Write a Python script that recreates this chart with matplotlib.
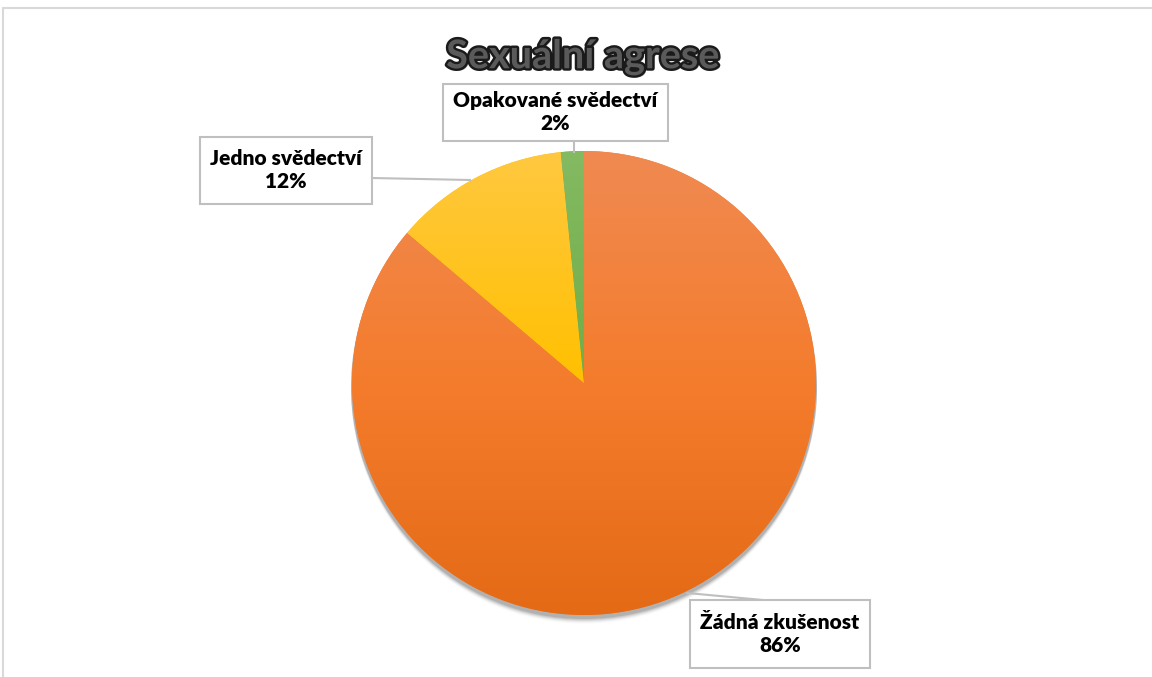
import numpy as np
import matplotlib.pyplot as plt
import matplotlib.patheffects as pe
from matplotlib.colors import LinearSegmentedColormap
from matplotlib.patches import Rectangle

# data
labels = ['Žádná zkušenost', 'Jedno svědectví', 'Opakované svědectví']
values = [86.2, 12.2, 1.6]
pct_text = ['86%', '12%', '2%']
# gradient colours (top, middle, bottom) per slice
grad = [('#F08A52', '#F47C2C', '#E46A16'),
        ('#FFC840', '#FFC000', '#E9AD00'),
        ('#84BA62', '#70AD47', '#62A438')]

W, H = 1152, 677
fig = plt.figure(figsize=(W / 100, H / 100), dpi=100)
ax = fig.add_axes([0, 0, 1, 1])

cx, cy, r = 584, H - 383, 232

# soft shadow under the pie
for i, a in enumerate(np.linspace(0.10, 0.01, 6)):
    sh = plt.Circle((cx, cy - 3 - i), r + 1, color='black', alpha=a, lw=0, zorder=1)
    ax.add_patch(sh)

wedges, _ = ax.pie(values, center=(cx, cy), radius=r, startangle=90,
                   counterclock=False, wedgeprops=dict(linewidth=0))

grad_img = np.linspace(0, 1, 256).reshape(-1, 1)
for w, cols in zip(wedges, grad):
    w.set_facecolor(cols[1])
    w.set_zorder(2)
    cmap = LinearSegmentedColormap.from_list('g', list(cols))
    im = ax.imshow(grad_img, cmap=cmap, aspect='auto', origin='upper',
                   extent=[cx - r, cx + r, cy - r, cy + r], zorder=3)
    im.set_clip_path(w)

ax.set_xlim(0, W)
ax.set_ylim(0, H)
ax.set_aspect('equal')
ax.axis('off')

# chart frame
ax.add_patch(Rectangle((3, -10), W + 20, H - 8 + 10, fill=False,
                       edgecolor='#d9d9d9', lw=1.5, zorder=0))

# title
t = ax.text(583, H - 57, 'Sexuální agrese', ha='center', va='center',
            fontsize=28.5, fontweight='bold', family='Lato', color='#5a5a5a', zorder=10)
t.set_path_effects([pe.withSimplePatchShadow(offset=(1.5, -1.5), alpha=0.4),
                    pe.Stroke(linewidth=3.5, foreground='#1a1a1a'), pe.Normal()])

# leader lines (pixel coordinates of the image)
lc = '#bfbfbf'
leaders = [
    [(687, 593), (763, 600)],
    [(372, 178), (470, 180)],
    [(574, 140), (574, 152)],
]
for seg in leaders:
    xs = [p[0] for p in seg]
    ys = [H - p[1] for p in seg]
    ax.plot(xs, ys, color=lc, lw=1.5, zorder=4)

# label boxes: centre x, centre y in image pixels
box_pos = [(780, 634), (286, 170), (555, 112)]
box_size = [(180, 68), (172, 67), (225, 57)]
for lab, p, (bx, by), (bw, bh) in zip(labels, pct_text, box_pos, box_size):
    ax.add_patch(Rectangle((bx - bw / 2, H - by - bh / 2), bw, bh, facecolor='white',
                           edgecolor=lc, lw=1.5, zorder=5))
    ax.text(bx, H - by, lab + '\n' + p, ha='center', va='center', fontsize=15,
            fontweight='heavy', family='Lato', color='black', linespacing=1.25, zorder=6)

fig.savefig('out.png', dpi=100)
